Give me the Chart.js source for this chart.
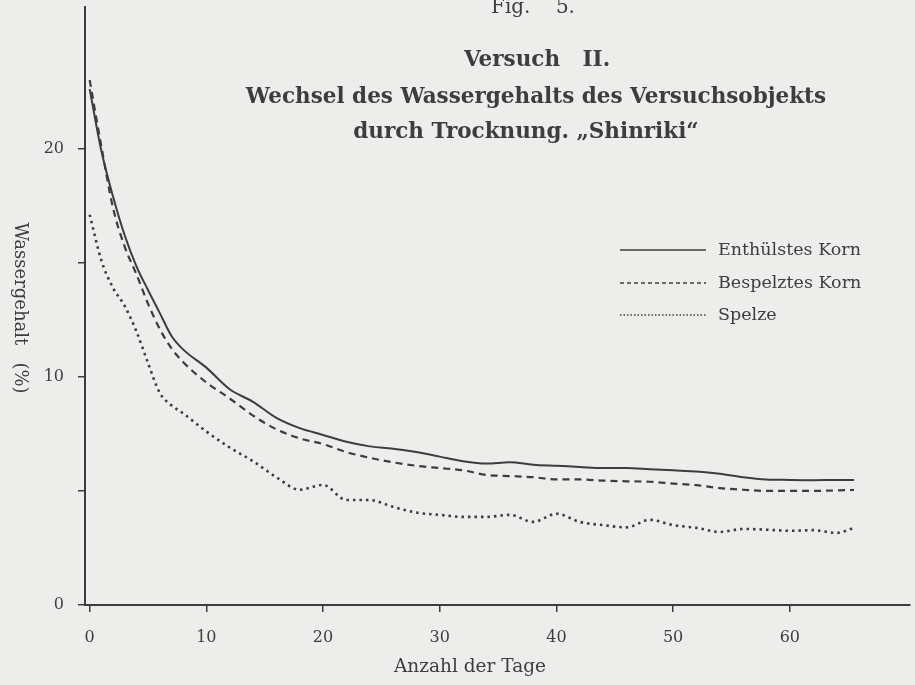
<!DOCTYPE html>
<html>
<head>
<meta charset="utf-8">
<script src="https://cdn.jsdelivr.net/npm/chart.js@4.4.1/dist/chart.umd.min.js"></script>
<style>
  html, body { margin: 0; padding: 0; background: #ededeb; }
  #wrap { width: 915px; height: 685px; }
</style>
</head>
<body>
<div id="wrap"><canvas id="chart" width="915" height="685"></canvas></div>
<script>
// Versuch II - water content while drying

const days = [0, 1, 2, 3, 4, 5, 6, 7, 8, 10, 12, 14, 16, 18, 20, 22, 24, 26, 28, 30,
  32, 34, 36, 38, 40, 42, 44, 46, 48, 50, 52, 54, 56, 58, 60, 62, 64, 65.5];

const enthuelst = [22.6, 19.9, 17.9, 16.2, 14.85, 13.8, 12.8, 11.8, 11.2, 10.4, 9.45, 8.9, 8.2, 7.75, 7.45, 7.15, 6.95, 6.85, 6.7, 6.5,
  6.3, 6.2, 6.25, 6.15, 6.1, 6.05, 6.0, 6.0, 5.95, 5.9, 5.85, 5.75, 5.6, 5.5, 5.48, 5.47, 5.48, 5.48];

const bespelzt = [23.0, 20.1, 17.4, 15.7, 14.5, 13.2, 12.1, 11.25, 10.65, 9.75, 9.05, 8.3, 7.7, 7.3, 7.05, 6.7, 6.45, 6.25, 6.1, 6.0,
  5.9, 5.7, 5.65, 5.6, 5.5, 5.5, 5.45, 5.42, 5.4, 5.32, 5.25, 5.12, 5.05, 5.0, 5.0, 5.0, 5.02, 5.04];

const spelze = [17.1, 15.1, 13.9, 13.1, 12.0, 10.6, 9.3, 8.75, 8.4, 7.6, 6.9, 6.3, 5.6, 5.05, 5.26, 4.6, 4.6, 4.3, 4.05, 3.95,
  3.86, 3.86, 3.95, 3.64, 4.0, 3.64, 3.5, 3.4, 3.73, 3.5, 3.38, 3.2, 3.33, 3.3, 3.25, 3.28, 3.16, 3.38];

const xTicks = [0, 10, 20, 30, 40, 50, 60];
const yTicks = [0, 5, 10, 15, 20];
const yLabelled = [0, 10, 20];

const seriesNames = ['Enthülstes Korn', 'Bespelztes Korn', 'Spelze'];
const titleLines = ['Versuch   II.', 'Wechsel des Wassergehalts des Versuchsobjekts', 'durch Trocknung. \u201EShinriki\u201C'];

const ink = '#3d3d3d';

const toPoints = (vals) => days.map((d, i) => ({ x: d, y: vals[i] }));

// paper colour behind everything
const paper = {
  id: 'paper',
  beforeDraw(chart) {
    const ctx = chart.ctx;
    ctx.save();
    ctx.fillStyle = '#ededeb';
    ctx.fillRect(0, 0, chart.width, chart.height);
    ctx.restore();
  }
};

// titles, axis titles and legend sit where Chart.js would not put them, so draw them by hand
const annotations = {
  id: 'annotations',
  afterDraw(chart) {
    const ctx = chart.ctx;
    ctx.save();
    ctx.fillStyle = ink;
    ctx.textAlign = 'center';
    ctx.textBaseline = 'middle';

    ctx.font = '20px "DejaVu Serif"';
    ctx.fillText('Fig.    5.', 533, 8);

    ctx.font = 'bold 21.5px "DejaVu Serif"';
    ctx.fillText(titleLines[0], 537, 60);
    ctx.fillText(titleLines[1], 536, 97);
    ctx.fillText(titleLines[2], 526, 132);

    // x axis title
    ctx.font = '18.5px "DejaVu Serif"';
    ctx.fillText('Anzahl der Tage', 470, 667);

    // y axis title, reading top to bottom
    ctx.save();
    ctx.translate(20, 308);
    ctx.rotate(Math.PI / 2);
    ctx.font = '18px "DejaVu Serif"';
    ctx.fillText('Wassergehalt   (%)', 0, 0);
    ctx.restore();

    // legend
    const rows = [250, 283, 315];
    const dashes = [[], [4, 3], [1.5, 2]];
    ctx.textAlign = 'left';
    ctx.font = '17.5px "DejaVu Serif"';
    rows.forEach((y, i) => {
      ctx.beginPath();
      ctx.setLineDash(dashes[i]);
      ctx.lineWidth = 1.3;
      ctx.strokeStyle = ink;
      ctx.moveTo(620, y);
      ctx.lineTo(706, y);
      ctx.stroke();
      ctx.setLineDash([]);
      ctx.fillText(seriesNames[i], 718, y);
    });
    ctx.restore();
  }
};

const lineStyle = {
  borderColor: ink,
  pointRadius: 0,
  fill: false,
  cubicInterpolationMode: 'monotone'
};

const config = {
  type: 'line',
  data: {
    datasets: [
      { ...lineStyle, label: seriesNames[0], data: toPoints(enthuelst), borderWidth: 2 },
      { ...lineStyle, label: seriesNames[1], data: toPoints(bespelzt), borderWidth: 2.2, borderDash: [7, 5] },
      { ...lineStyle, label: seriesNames[2], data: toPoints(spelze), borderWidth: 2.6, borderDash: [2.5, 4] }
    ]
  },
  options: {
    responsive: false,
    animation: false,
    layout: { padding: { top: 7, right: 5, left: 0, bottom: 0 } },
    plugins: {
      legend: { display: false },
      title: { display: false },
      tooltip: { enabled: false }
    },
    scales: {
      x: {
        type: 'linear',
        min: -0.4,
        max: 70.3,
        afterBuildTicks: (scale) => { scale.ticks = xTicks.map(v => ({ value: v })); },
        afterFit: (scale) => {
          scale.height = 80;
          scale.paddingLeft = 0;
          scale.paddingRight = 0;
        },
        grid: { display: true, drawOnChartArea: false, tickLength: 7, color: ink, lineWidth: 1.5 },
        border: { display: true, color: ink, width: 2 },
        ticks: { color: ink, padding: 16, font: { family: 'DejaVu Serif', size: 16 } }
      },
      y: {
        type: 'linear',
        min: 0,
        max: 26.2,
        afterBuildTicks: (scale) => { scale.ticks = yTicks.map(v => ({ value: v })); },
        afterFit: (scale) => {
          scale.width = 85;
          scale.paddingTop = 0;
          scale.paddingBottom = 0;
        },
        grid: { display: true, drawOnChartArea: false, tickLength: 7, color: ink, lineWidth: 1.5 },
        border: { display: true, color: ink, width: 2 },
        ticks: {
          color: ink,
          padding: 14,
          font: { family: 'DejaVu Serif', size: 16 },
          callback: (v) => yLabelled.includes(v) ? String(v) : ''
        }
      }
    }
  },
  plugins: [paper, annotations]
};

const waterChart = new Chart(document.getElementById('chart'), config);
</script>
</body>
</html>
